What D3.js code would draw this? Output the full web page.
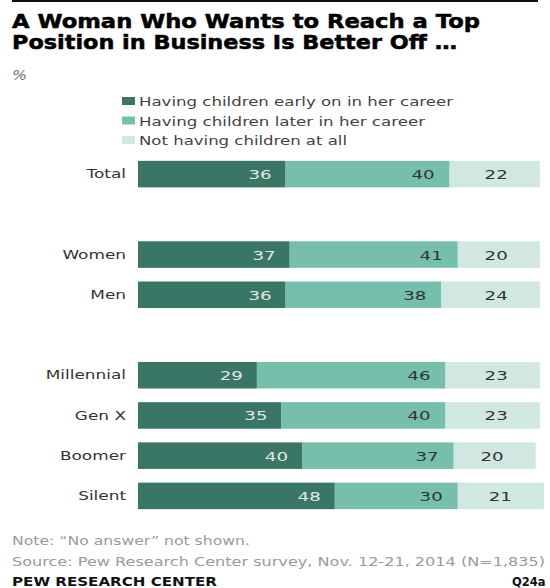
<!DOCTYPE html>
<html>
<head>
<meta charset="utf-8">
<script src="https://cdn.jsdelivr.net/npm/d3@7"></script>
<style>
  html, body { margin: 0; padding: 0; background: #fff; }
  svg { display: block; }
  text { font-family: "DejaVu Sans", "Liberation Sans", sans-serif; }
</style>
</head>
<body>
<svg id="chart" width="550" height="588"></svg>
<script>
// Survey groups, in display order; empty strings are spacer rows between groups
const groups = ["Total", "", "Women", "Men", "", "Millennial", "Gen X", "Boomer", "Silent"];
// Share (%) saying a woman is better off ...
const early = [36, null, 37, 36, null, 29, 35, 40, 48];   // having children early on in her career
const later = [40, null, 41, 38, null, 46, 40, 37, 30];   // having children later in her career
const none  = [22, null, 20, 24, null, 23, 23, 20, 21];   // not having children at all

const seriesNames = [
  "Having children early on in her career",
  "Having children later in her career",
  "Not having children at all"
];
const seriesColors = ["#3a7665", "#76bfad", "#d0e8e1"];
const labelColors = ["#e6e6e6", "#333333", "#333333"];

const titleLines = [
  "A Woman Who Wants to Reach a Top",
  "Position in Business Is Better Off \u2026"
];
const noteText = "Note: \u201cNo answer\u201d not shown.";
const sourceText = "Source: Pew Research Center survey, Nov. 12-21, 2014 (N=1,835)";
const creditText = "PEW RESEARCH CENTER";
const codeText = "Q24a";

const svg = d3.select("#chart");

// Stretch a text element horizontally so it spans a given width
function fit(sel, w) {
  sel.attr("textLength", w).attr("lengthAdjust", "spacingAndGlyphs");
  return sel;
}
// Widen every text in a selection by a factor, keeping its anchor
function widen(sel, f) {
  sel.each(function () {
    const w = this.getComputedTextLength();
    d3.select(this).attr("textLength", w * f).attr("lengthAdjust", "spacingAndGlyphs");
  });
}

// Top rule
svg.append("rect").attr("x", 12).attr("y", 0).attr("width", 526).attr("height", 2).attr("fill", "#111");

// Title (one text, two lines)
const titleWidths = [468, 445];
const title = svg.append("text")
  .attr("font-size", 19.5).attr("font-weight", "bold")
  .attr("fill", "#000").attr("stroke", "#000").attr("stroke-width", 0.5);
titleLines.forEach((t, i) => {
  fit(title.append("tspan").attr("x", 12).attr("y", 28 + i * 21).text(t), titleWidths[i]);
});

fit(svg.append("text").attr("x", 12).attr("y", 80)
  .attr("font-size", 14).attr("font-style", "italic").attr("fill", "#777")
  .text("%"), 15);

// Legend
const legendWidths = [314, 286, 208];
seriesNames.forEach((name, i) => {
  const y = 101 + i * 19.5;
  svg.append("rect").attr("x", 122).attr("y", y - 4).attr("width", 13).attr("height", 8)
    .attr("fill", seriesColors[i]);
  fit(svg.append("text").attr("x", 139).attr("y", y + 5)
    .attr("font-size", 13).attr("fill", "#444").text(name), legendWidths[i]);
});

// Scales
const x = d3.scaleLinear().domain([0, 100]).range([138, 548]);
const y = d3.scaleBand().domain(d3.range(groups.length)).range([154, 516]).paddingInner(0.34).paddingOuter(0.17);

const rows = groups.map((g, i) => ({ g, i, vals: [early[i], later[i], none[i]] }))
  .filter(r => r.g !== "");

const stack = [];
rows.forEach(r => {
  let acc = 0;
  r.vals.forEach((v, k) => {
    stack.push({ row: r.i, k, v, x0: acc, x1: acc + v });
    acc += v;
  });
});

svg.append("g").selectAll("rect").data(stack).join("rect")
  .attr("x", d => x(d.x0))
  .attr("y", d => y(d.row))
  .attr("width", d => x(d.x1) - x(d.x0))
  .attr("height", y.bandwidth())
  .attr("fill", d => seriesColors[d.k]);

// Value labels, right-aligned inside each segment
const pad = [14, 15, 32];
const vals = svg.append("g").selectAll("text").data(stack).join("text")
  .attr("x", d => x(d.x1) - pad[d.k])
  .attr("y", d => y(d.row) + y.bandwidth() / 2 + 5)
  .attr("text-anchor", "end")
  .attr("font-size", 13)
  .attr("fill", d => labelColors[d.k])
  .text(d => d.v);
widen(vals, 1.4);

// Category labels
const yAxis = d3.axisLeft(y).tickSize(0).tickPadding(12)
  .tickFormat(i => groups[i]);
const ax = svg.append("g").attr("transform", "translate(138,0)").call(yAxis);
ax.select(".domain").remove();
const cats = ax.selectAll("text").attr("font-size", 13).attr("fill", "#333")
  .attr("font-family", "\"DejaVu Sans\", sans-serif");
widen(cats, 1.3);

// Footer
fit(svg.append("text").attr("x", 12).attr("y", 545).attr("font-size", 12.5).attr("fill", "#9a9a9a").text(noteText), 238);
fit(svg.append("text").attr("x", 12).attr("y", 566).attr("font-size", 12.5).attr("fill", "#9a9a9a").text(sourceText), 533);
fit(svg.append("text").attr("x", 12).attr("y", 586).attr("font-size", 11.5).attr("font-weight", "bold").attr("fill", "#111").text(creditText), 205);
svg.append("text").attr("x", 512).attr("y", 586).attr("font-size", 11.5).attr("font-weight", "bold").attr("fill", "#111").text(codeText);
</script>
</body>
</html>
